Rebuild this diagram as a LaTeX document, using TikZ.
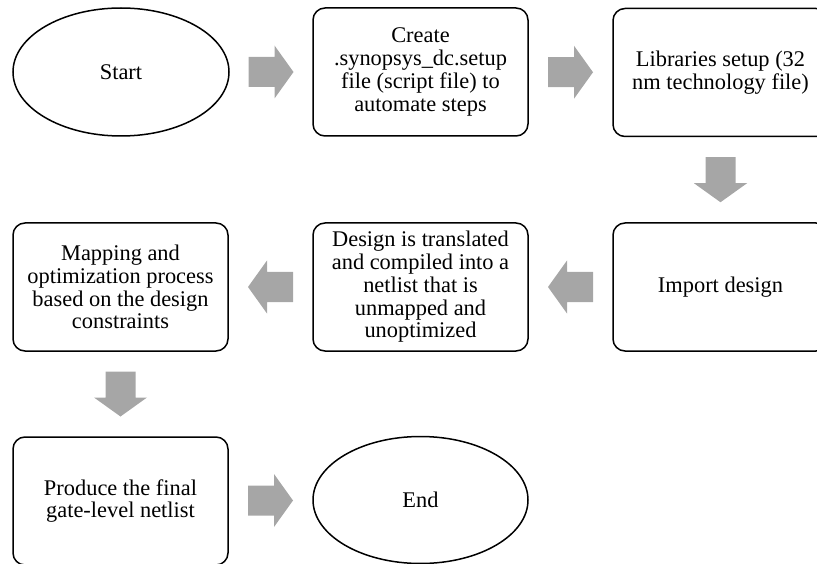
\documentclass[tikz,border=0pt]{standalone}
\usepackage{fontspec}
\setmainfont{Liberation Serif}
\usetikzlibrary{shapes.geometric,calc}
\definecolor{arrowgray}{HTML}{A6A6A6}
\tikzset{
  stepbox/.style={draw=black, line width=1.5pt, rounded corners=12pt, fill=white,
    minimum width=215pt, minimum height=128pt, inner sep=0pt, align=center,
    font=\fontsize{22.4pt}{22.75pt}\selectfont},
  terminal/.style={draw=black, line width=1.5pt, ellipse, fill=white,
    minimum width=216pt, minimum height=128pt, inner sep=0pt, align=center,
    font=\fontsize{22.4pt}{22.75pt}\selectfont},
  blockarrow/.pic={\fill[arrowgray] (-22.5,-15) -- (3.5,-15) -- (3.5,-26.5) -- (22.5,0)
     -- (3.5,26.5) -- (3.5,15) -- (-22.5,15) -- cycle;}
}
\begin{document}
\begin{tikzpicture}[x=1pt,y=-1pt]
\useasboundingbox (0,0) rectangle (817,564);
\clip (0,0) rectangle (817,564);
\node[terminal] (start) at (121,72) {Start};
\node[stepbox] (create) at (420.5,72) {Create\\.synopsys\_dc.setup\\file (script file) to\\automate steps};
\node[stepbox] (libs) at (720.5,72.5) {Libraries setup (32\\nm technology file)};
\node[stepbox] (import) at (720.5,287) {Import design};
\node[stepbox] (design) at (420.5,287) {Design is translated\\and compiled into a\\netlist that is\\unmapped and\\unoptimized};
\node[stepbox] (mapping) at (120.5,287) {Mapping and\\optimization process\\based on the design\\constraints};
\node[stepbox] (produce) at (120.5,501) {Produce the final\\gate-level netlist};
\node[terminal, minimum width=215pt, minimum height=127pt] (end) at (420.5,500) {End};
\pic at ($(start.east)!0.5!(create.west)$) {blockarrow};
\pic at ($(create.east)!0.5!(libs.west)$) {blockarrow};
\pic[rotate=-90] at ($(libs.south)!0.5!(import.north)$) {blockarrow};
\pic[rotate=180] at ($(import.west)!0.5!(design.east)$) {blockarrow};
\pic[rotate=180] at ($(design.west)!0.5!(mapping.east)$) {blockarrow};
\pic[rotate=-90] at ($(mapping.south)!0.5!(produce.north)$) {blockarrow};
\pic at ($(produce.east)!0.5!(end.west)$) {blockarrow};
\end{tikzpicture}
\end{document}
